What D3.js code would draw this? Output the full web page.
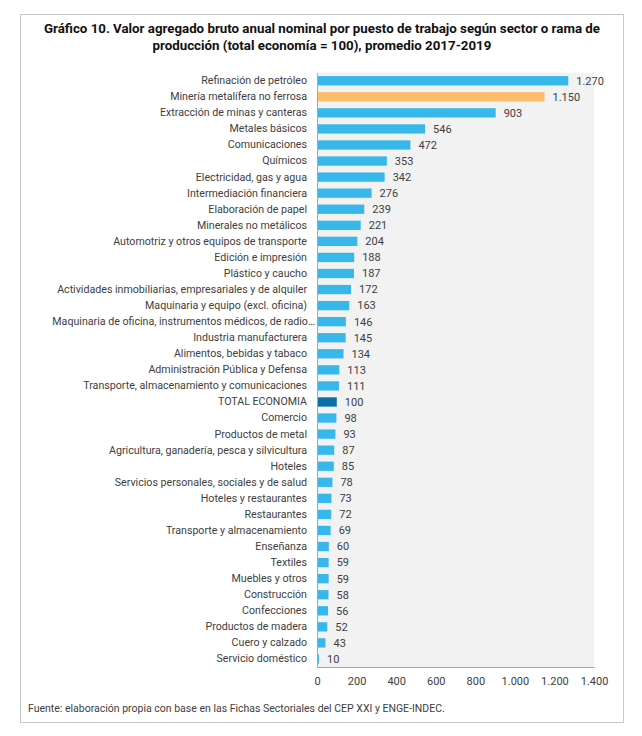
<!DOCTYPE html>
<html>
<head>
<meta charset="utf-8">
<script src="https://cdn.jsdelivr.net/npm/d3@7"></script>
<style>
  body { margin: 0; background: #fff; }
  svg { display: block; font-family: Roboto, "Noto Sans", sans-serif; }
</style>
</head>
<body>
<div id="chart"></div>
<script>
// Sectors, top to bottom
const categories = [
  'Refinación de petróleo',
  'Minería metalífera no ferrosa',
  'Extracción de minas y canteras',
  'Metales básicos',
  'Comunicaciones',
  'Químicos',
  'Electricidad, gas y agua',
  'Intermediación financiera',
  'Elaboración de papel',
  'Minerales no metálicos',
  'Automotriz y otros equipos de transporte',
  'Edición e impresión',
  'Plástico y caucho',
  'Actividades inmobiliarias, empresariales y de alquiler',
  'Maquinaria y equipo (excl. oficina)',
  'Maquinaria de oficina, instrumentos médicos, de radio…',
  'Industria manufacturera',
  'Alimentos, bebidas y tabaco',
  'Administración Pública y Defensa',
  'Transporte, almacenamiento y comunicaciones',
  'TOTAL ECONOMIA',
  'Comercio',
  'Productos de metal',
  'Agricultura, ganadería, pesca y silvicultura',
  'Hoteles',
  'Servicios personales, sociales y de salud',
  'Hoteles y restaurantes',
  'Restaurantes',
  'Transporte y almacenamiento',
  'Enseñanza',
  'Textiles',
  'Muebles y otros',
  'Construcción',
  'Confecciones',
  'Productos de madera',
  'Cuero y calzado',
  'Servicio doméstico'
];
const values = [1270, 1150, 903, 546, 472, 353, 342, 276, 239, 221, 204, 188, 187,
  172, 163, 146, 145, 134, 113, 111, 100, 98, 93, 87, 85, 78, 73, 72, 69, 60,
  59, 59, 58, 56, 52, 43, 10];
const xTicks = [0, 200, 400, 600, 800, 1000, 1200, 1400];
const highlight = { 'Minería metalífera no ferrosa': '#fbbd6b', 'TOTAL ECONOMIA': '#0b6ea6' };

const width = 642, height = 736;
const margin = { top: 72.7, right: 48, bottom: 69, left: 317 };

const fmt = d3.formatLocale({ decimal: ',', thousands: '.', grouping: [3], currency: ['$', ''] }).format(',d');

const data = categories.map((c, i) => ({ name: c, value: values[i] }));

const svg = d3.select('#chart').append('svg')
  .attr('width', width)
  .attr('height', height);

// outer frame
svg.append('rect')
  .attr('x', 20.5).attr('y', 14.5)
  .attr('width', 603).attr('height', 708)
  .attr('fill', 'none')
  .attr('stroke', '#c8c8c8')
  .attr('stroke-width', 1);

// title
const title = svg.append('text')
  .attr('text-anchor', 'middle')
  .attr('font-weight', 'bold')
  .attr('font-size', '13.3px')
  .attr('fill', '#111');
title.append('tspan').attr('x', 322).attr('y', 33)
  .text('Gráfico 10. Valor agregado bruto anual nominal por puesto de trabajo según sector o rama de');
title.append('tspan').attr('x', 322).attr('y', 49.5)
  .text('producción (total economía = 100), promedio 2017-2019');

const x = d3.scaleLinear()
  .domain([0, 1400])
  .range([margin.left, width - margin.right]);

const y = d3.scaleBand()
  .domain(categories)
  .range([margin.top, height - margin.bottom])
  .paddingInner(0.42)
  .paddingOuter(0.21);

// plot background
svg.append('rect')
  .attr('x', x(0)).attr('y', margin.top)
  .attr('width', x(1400) - x(0))
  .attr('height', height - margin.bottom - margin.top)
  .attr('fill', '#f2f2f2');

// bars
svg.append('g')
  .selectAll('rect')
  .data(data)
  .join('rect')
  .attr('x', x(0))
  .attr('y', d => y(d.name))
  .attr('width', d => x(d.value) - x(0))
  .attr('height', y.bandwidth())
  .attr('fill', d => highlight[d.name] || '#38b8ea');

// value labels
svg.append('g')
  .selectAll('text')
  .data(data)
  .join('text')
  .attr('x', d => x(d.value) + 8)
  .attr('y', d => y(d.name) + y.bandwidth() / 2)
  .attr('dy', '0.35em')
  .attr('font-size', '11px')
  .attr('fill', '#404040')
  .text(d => fmt(d.value));

// category axis
const yAxis = svg.append('g')
  .attr('transform', `translate(${x(0)},0)`)
  .call(d3.axisLeft(y).tickSize(0).tickPadding(10));
yAxis.select('.domain').attr('stroke', '#a6a6a6');
yAxis.selectAll('text')
  .attr('font-size', '10.65px')
  .attr('font-family', 'Roboto, sans-serif')
  .attr('fill', '#404040');
// the truncated label runs right up to the axis line
yAxis.selectAll('.tick text')
  .filter(d => d.endsWith('…'))
  .attr('x', -2);

// value axis
const xAxis = svg.append('g')
  .attr('transform', `translate(0,${height - margin.bottom})`)
  .call(d3.axisBottom(x).tickValues(xTicks).tickSize(0).tickPadding(10).tickFormat(fmt));
xAxis.select('.domain').attr('stroke', '#a6a6a6');
xAxis.selectAll('text')
  .attr('font-size', '11px')
  .attr('font-family', 'Roboto, sans-serif')
  .attr('fill', '#404040');

// source note
svg.append('text')
  .attr('x', 28).attr('y', 712)
  .attr('font-size', '10.5px')
  .attr('fill', '#404040')
  .text('Fuente: elaboración propia con base en las Fichas Sectoriales del CEP XXI y ENGE-INDEC.');
</script>
</body>
</html>
